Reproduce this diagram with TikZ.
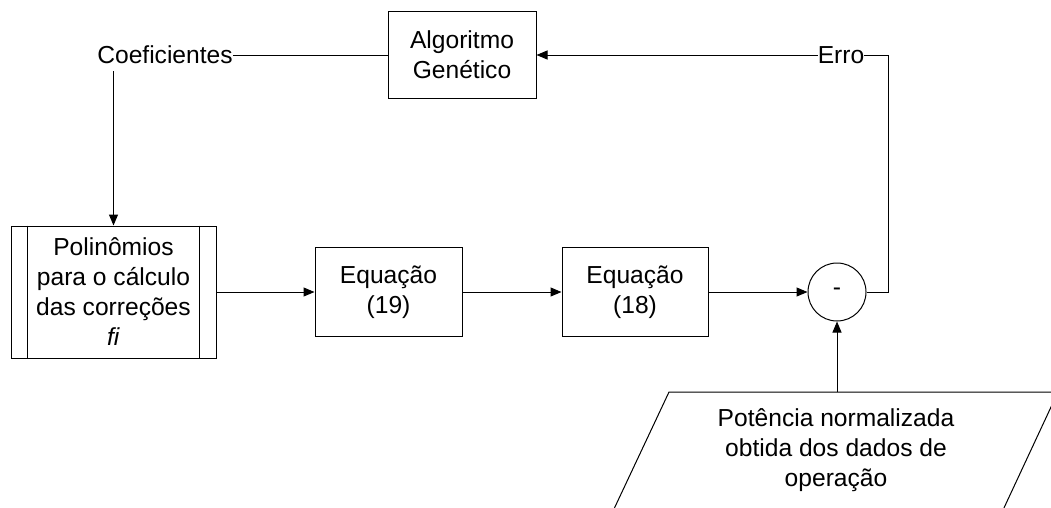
\documentclass[tikz,border=0pt]{standalone}
\usepackage{fontspec}
\setmainfont{Liberation Sans}[Ligatures=NoCommon]
\usetikzlibrary{arrows.meta,calc}
\tikzset{
  lbl/.style={font=\fontsize{24.6}{30}\selectfont, inner sep=0pt, align=center},
  blk/.style={draw, line width=1pt, font=\fontsize{24.6}{30}\selectfont, align=center, inner sep=0pt},
  conn/.style={line width=1pt},
  arr/.style={line width=1pt, -{Triangle[length=11pt,width=9pt]}},
}
\begin{document}
\begin{tikzpicture}[x=1pt,y=-1pt]
\useasboundingbox (0,0) rectangle (1051,507);
\clip (0,0) rectangle (1051,507);
% nodes
\node[lbl] (coef) at (165,55) {Coeficientes};
\node[blk, minimum width=148pt, minimum height=87pt] (ag) at (462,55) {Algoritmo\\Genético};
\node[lbl] (erro) at (841,55) {Erro};
\node[blk, minimum width=205pt, minimum height=132pt] (poly) at (113.5,292) {Polinômios\\para o cálculo\\das correções\\\textit{fi}};
\draw[conn] ($(poly.north west)+(17,0)$) -- ($(poly.south west)+(17,0)$);
\draw[conn] ($(poly.north east)+(-17,0)$) -- ($(poly.south east)+(-17,0)$);
\node[blk, minimum width=147pt, minimum height=89pt] (eq19) at (388.5,292) {Equação\\(19)};
\node[blk, minimum width=146pt, minimum height=89pt] (eq18) at (635,292) {Equação\\(18)};
\node[blk, circle, minimum size=58pt] (sum) at (837,292) {-};
\node[lbl] (data) at (836,450) {Potência normalizada\\obtida dos dados de\\operação};
\draw[conn] (669,392) -- (1058,392) -- (1003,510) -- (613.5,510) -- cycle;
\coordinate (ctop) at (113.5,71);
\coordinate (dtop) at (837,392);
\coordinate (ecorner) at (888,55);
\coordinate (scorner) at (888,292);
% connectors
\draw[conn] (coef.east) -- (ag.west);
\draw[arr] (ctop) -- (poly.north);
\draw[arr] (erro.west) -- (ag.east);
\draw[conn] (erro.east) -- (ecorner) -- (scorner) -- (sum.east);
\draw[arr] (poly.east) -- (eq19.west);
\draw[arr] (eq19.east) -- (eq18.west);
\draw[arr] (eq18.east) -- (sum.west);
\draw[arr] (dtop) -- (sum.south);
\end{tikzpicture}
\end{document}
